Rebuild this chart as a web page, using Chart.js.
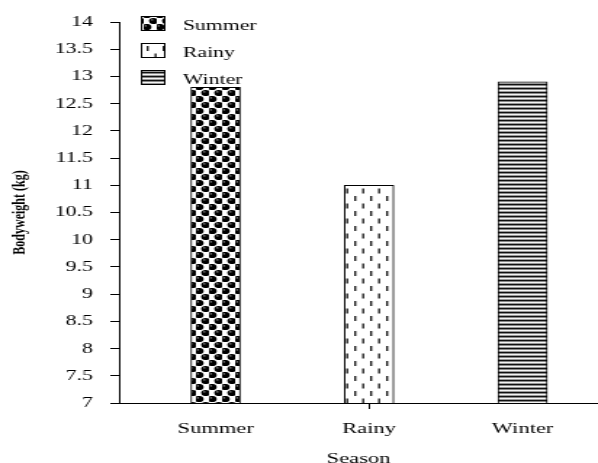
<!DOCTYPE html>
<html>
<head>
<meta charset="utf-8">
<script src="https://cdn.jsdelivr.net/npm/chart.js@4"></script>
<style>
  html, body { margin: 0; padding: 0; background: #fff; overflow: hidden; }
  #wrap { width: 598px; height: 463px; }
  /* the reference picture is stretched sideways, so the chart is drawn narrow and widened */
  #chart { transform: scaleX(1.4515); transform-origin: 0 0; }
</style>
</head>
<body>
<div id="wrap"><canvas id="chart" width="412" height="463"></canvas></div>
<script>
const seasons = ['Summer', 'Rainy', 'Winter'];
const bodyweight = [12.8, 11.0, 12.9];
const yTicks = [7, 7.5, 8, 8.5, 9, 9.5, 10, 10.5, 11, 11.5, 12, 12.5, 13, 13.5, 14];

const FONT = '"Liberation Serif", "Times New Roman", serif';

const canvas = document.getElementById('chart');
const ctx = canvas.getContext('2d');

function tile(w, h, draw) {
  const c = document.createElement('canvas');
  c.width = w;
  c.height = h;
  const g = c.getContext('2d');
  g.fillStyle = '#fff';
  g.fillRect(0, 0, w, h);
  draw(g);
  return ctx.createPattern(c, 'repeat');
}

// black balls in a checker layout
const ballPattern = tile(9, 12, g => {
  [[2.2, 3], [6.7, 9]].forEach(([x, y]) => {
    g.fillStyle = '#000';
    g.beginPath();
    g.arc(x, y, 3.1, 0, Math.PI * 2);
    g.fill();
    g.fillStyle = '#777';
    g.beginPath();
    g.arc(x - 0.9, y - 1.1, 0.8, 0, Math.PI * 2);
    g.fill();
  });
});

// staggered short vertical dashes
const dashPattern = tile(11, 15, g => {
  g.fillStyle = '#222';
  g.fillRect(2, 1, 1.4, 5);
  g.fillRect(7.5, 8.5, 1.4, 5);
});

// horizontal stripes
const stripePattern = tile(1, 4, g => {
  g.fillStyle = '#111'; g.fillRect(0, 0, 1, 1);
  g.fillStyle = '#888'; g.fillRect(0, 1, 1, 1);
  g.fillStyle = '#f4f4f4'; g.fillRect(0, 2, 1, 1);
  g.fillStyle = '#999'; g.fillRect(0, 3, 1, 1);
});

const fills = [ballPattern, dashPattern, stripePattern];

const seasonLegend = {
  id: 'seasonLegend',
  afterDraw(chart) {
    const c = chart.ctx;
    c.save();
    c.font = '15px ' + FONT;
    c.textBaseline = 'alphabetic';
    chart.data.datasets.forEach((ds, i) => {
      const y = 16 + i * 27;
      c.fillStyle = ds.backgroundColor;
      c.fillRect(97, y, 17, 15);
      c.strokeStyle = '#000';
      c.lineWidth = 1;
      c.strokeRect(97.5, y + 0.5, 16, 14);
      c.fillStyle = '#000';
      c.fillText(ds.label, 126, y + 14);
    });
    c.restore();
  },
};

new Chart(canvas, {
  type: 'bar',
  data: {
    datasets: seasons.map((s, i) => ({
      label: s,
      data: [{ x: i + 1, y: bodyweight[i] }],
      backgroundColor: fills[i],
      borderColor: '#000',
      borderWidth: 1,
      borderSkipped: false,
      barThickness: 34,
      grouped: false,
    })),
  },
  options: {
    responsive: false,
    animation: false,
    layout: { padding: { top: 22, left: 0, right: 0, bottom: 0 } },
    plugins: {
      legend: { display: false },
      tooltip: { enabled: false },
    },
    scales: {
      x: {
        type: 'linear',
        offset: false,
        min: 0.371,
        max: 3.491,
        afterBuildTicks: scale => { scale.ticks = seasons.map((s, i) => ({ value: i + 1 })); },
        afterFit: scale => { scale.height = 60; },
        ticks: {
          color: '#000',
          font: { family: FONT, size: 15.5 },
          padding: 11,
          maxRotation: 0,
          callback: v => seasons[v - 1],
        },
        grid: {
          offset: false,
          drawOnChartArea: false,
          tickLength: 6,
          tickColor: c => (c.tick && c.tick.value === 2 ? '#000' : 'rgba(0,0,0,0)'),
        },
        border: { color: '#000', width: 1 },
        title: {
          display: true,
          text: 'Season',
          color: '#000',
          font: { family: FONT, size: 15.5 },
          padding: { top: 0, bottom: -5 },
        },
      },
      y: {
        min: 7,
        max: 14,
        afterBuildTicks: scale => { scale.ticks = yTicks.map(v => ({ value: v })); },
        afterFit: scale => { scale.width = 82; },
        ticks: {
          color: '#000',
          font: { family: FONT, size: 15 },
          padding: 12,
          callback: v => String(v),
        },
        grid: {
          drawOnChartArea: false,
          tickLength: 6,
          tickColor: '#000',
        },
        border: { color: '#000', width: 1 },
        title: {
          display: true,
          text: 'Bodyweight (kg)',
          color: '#000',
          font: { family: FONT, size: 12, weight: 'bold' },
          padding: { top: 7, bottom: 0 },
        },
      },
    },
  },
  plugins: [seasonLegend],
});
</script>
</body>
</html>
